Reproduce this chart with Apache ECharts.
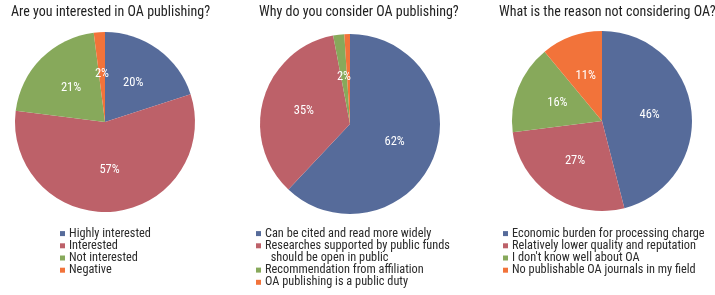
<!DOCTYPE html>
<html>
<head>
<meta charset="utf-8">
<script src="https://cdn.jsdelivr.net/npm/echarts@6/dist/echarts.min.js"></script>
<style>
  html,body{margin:0;padding:0;background:#fff}
  #chart{width:715px;height:295px}
</style>
</head>
<body>
<div id="chart"></div>
<script>
// survey data (percent)
var titles = ['Are you interested in OA publishing?', 'Why do you consider OA publishing?', 'What is the reason not considering OA?']
var interestNames = ['Highly interested', 'Interested', 'Not interested', 'Negative']
var interestValues = [20, 57, 21, 2]
var reasonNames = ['Can be cited and read more widely', 'Researches supported by public funds\n  should be open in public', 'Recommendation from affiliation', 'OA publishing is a public duty']
var reasonValues = [62, 35, 2, 1]
var notNames = ['Economic burden for processing charge', 'Relatively lower quality and reputation', "I don't know well about OA", 'No publishable OA journals in my field']
var notValues = [46, 27, 16, 11]

var colorList = ['#566b9a', '#bd6169', '#87a95b', '#f2733a']
var fontFam = '"Roboto Condensed", "DejaVu Sans Condensed", sans-serif'

var pies = [
  {names: interestNames, values: interestValues, cx: 105, cy: 122, legendX: 60, titleX: 6},
  {names: reasonNames, values: reasonValues, cx: 350, cy: 124, legendX: 256, titleX: 254},
  {names: notNames, values: notValues, cx: 602, cy: 121, legendX: 503, titleX: 494}
]

function toData(names, values){
  var out = []
  for(var i=0;i<names.length;i++){
    out.push({name: names[i], value: values[i]})
  }
  return out
}

function makeLegend(x, top, items){
  return {
    orient: 'vertical',
    left: x,
    top: top,
    padding: 0,
    data: items,
    icon: 'rect',
    itemWidth: 5,
    itemHeight: 5,
    itemGap: 0,
    textStyle: {fontFamily: fontFam, fontSize: 12.3, color: '#2a2a2a', lineHeight: 12.2, padding: [0, 0, 0, -1]},
    selectedMode: false
  }
}

var myChart = echarts.init(document.getElementById('chart'))
var option = {
  animation: false,
  color: colorList,
  title: [],
  legend: [],
  series: []
}
pies.forEach(function(p, k){
  option.title.push({
    text: titles[k],
    left: p.titleX,
    top: 0,
    textStyle: {fontFamily: fontFam, fontSize: 14, fontWeight: 'normal', color: '#222'}
  })
  if(k == 1){
    // wrapped item: an empty line on top keeps its square level with the first line
    option.legend.push(makeLegend(p.legendX, 227.5, [p.names[0]]))
    var wrapped = makeLegend(p.legendX, 227.5, [p.names[1]])
    wrapped.formatter = function(name){ return '\n' + name }
    option.legend.push(wrapped)
    option.legend.push(makeLegend(p.legendX, 264, p.names.slice(2)))
  }else{
    option.legend.push(makeLegend(p.legendX, 227.5, p.names))
  }
  option.series.push({
    type: 'pie',
    center: [p.cx, p.cy],
    radius: 90,
    startAngle: 90,
    clockwise: true,
    label: {
      position: 'inside',
      formatter: '{c}%',
      color: '#fff',
      fontFamily: fontFam,
      fontSize: 12.5
    },
    labelLine: {show: false},
    itemStyle: {borderWidth: 0},
    emphasis: {disabled: true},
    data: toData(p.names, p.values)
  })
})
myChart.setOption(option)
</script>
</body>
</html>
